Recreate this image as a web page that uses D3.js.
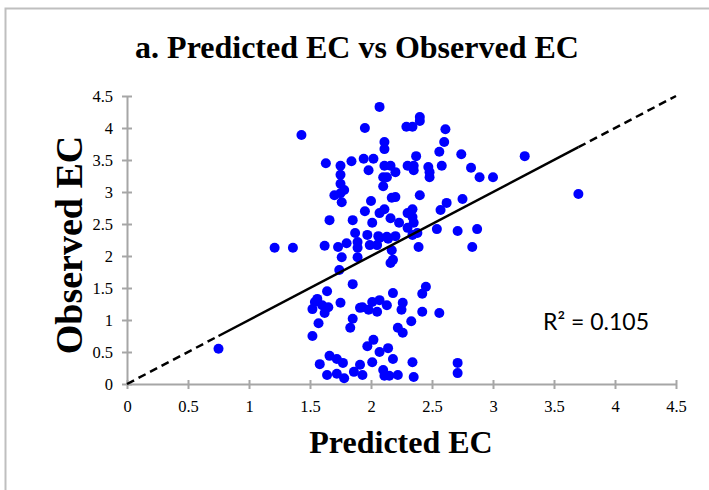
<!DOCTYPE html>
<html lang="en">
<head>
<meta charset="UTF-8">
<title>Predicted EC vs Observed EC</title>
<script src="https://d3js.org/d3.v7.min.js"></script>
<style>
  body { margin: 0; background: #fff; }
  .axis path, .axis line { stroke: #a6a6a6; stroke-width: 2; }
  .axis text { font-family: "Liberation Serif", "Times New Roman", serif; font-size: 16.5px; fill: #000; }
</style>
</head>
<body>
<svg id="chart"></svg>
<script>
let predicted = [
  1.43, 2.07, 1.95, 2.29, 2.34, 2.40, 2.40, 2.61, 2.60, 2.56,
  2.11, 2.11, 1.63, 1.75, 1.84, 1.94, 2.02, 1.98, 2.11, 2.16,
  2.20, 2.30, 2.35, 2.35, 2.37, 2.47, 2.48, 2.48, 2.58, 1.75,
  1.75, 1.78, 1.70, 1.76, 2.10, 2.13, 2.10, 2.00, 2.17, 2.20,
  2.40, 2.62, 2.57, 1.66, 1.85, 1.95, 2.01, 2.07, 2.11, 2.16,
  2.23, 2.30, 2.34, 2.34, 2.35, 2.54, 1.87, 1.97, 2.06, 2.13,
  2.20, 2.30, 2.38, 2.74, 2.82, 2.89, 3.00, 3.26, 3.70, 2.75,
  2.71, 2.87, 2.39, 2.83, 1.21, 1.36, 1.62, 1.73, 1.80, 1.89,
  1.89, 2.07, 2.14, 2.34, 1.99, 2.05, 1.76, 1.89, 2.17, 2.16,
  2.18, 1.74, 1.75,
  1.85, 1.64, 1.54, 1.56, 1.60, 1.65, 1.52, 1.62, 1.75, 1.91,
  1.93, 1.98, 2.01, 2.05, 2.07, 2.13, 2.18, 2.26, 2.25, 2.45,
  2.42, 2.42, 2.56, 2.33, 2.26, 1.57, 1.85, 1.83, 2.22, 1.52,
  2.02, 1.97, 2.14, 2.07, 1.66, 1.72, 1.77, 1.58, 1.91, 2.01,
  2.18, 2.34, 2.71, 2.71, 1.64, 1.72, 1.78, 1.86, 1.93, 2.10,
  2.11, 2.15, 2.22, 2.35, 0.75
]
let observed = [
  3.89, 4.33, 4.00, 4.02, 4.02, 4.17, 4.11, 3.98, 3.78, 3.63,
  3.78, 3.67, 3.45, 3.41, 3.48, 3.52, 3.52, 3.34, 3.41, 3.41,
  3.31, 3.41, 3.41, 3.34, 3.56, 3.39, 3.31, 3.23, 3.41, 3.27,
  3.13, 3.03, 2.95, 2.84, 3.23, 3.23, 3.09, 2.86, 2.91, 2.92,
  2.95, 2.83, 2.72, 2.56, 2.56, 2.70, 2.52, 2.67, 2.73, 2.59,
  2.52, 2.67, 2.73, 2.61, 2.52, 2.42, 2.36, 2.33, 2.31, 2.30,
  2.31, 2.44, 2.36, 3.59, 3.38, 3.23, 3.23, 3.56, 2.97, 2.89,
  2.39, 2.42, 2.14, 2.14, 2.13, 2.13, 2.16, 2.14, 2.20, 2.22,
  2.13, 2.28, 2.27, 2.33, 2.17, 2.17, 1.98, 1.98, 2.09, 1.89,
  1.94, 1.78, 2.98,
  1.56, 1.45, 1.28, 1.33, 1.23, 1.20, 1.17, 1.11, 1.27, 1.19,
  1.20, 1.16, 1.28, 1.13, 1.31, 1.23, 1.42, 1.27, 1.16, 1.52,
  1.41, 1.13, 1.11, 0.98, 0.80, 0.95, 1.02, 0.88, 0.88, 0.75,
  0.69, 0.59, 0.56, 0.50, 0.44, 0.39, 0.33, 0.31, 0.30, 0.34,
  0.39, 0.34, 0.33, 0.17, 0.14, 0.16, 0.09, 0.19, 0.14, 0.22,
  0.13, 0.13, 0.14, 0.11, 0.55
]
let axisTicks = [0, 0.5, 1, 1.5, 2, 2.5, 3, 3.5, 4, 4.5]
let trendSlope = 1.0
let trendIntercept = 0
let rSquared = "R² = 0.105"

let width = 709
let height = 490

let svg = d3.select("#chart")
  .attr("width", width)
  .attr("height", height)

// outer frame
svg.append("rect")
  .attr("x", 5.5).attr("y", 8.5)
  .attr("width", 720).attr("height", 500)
  .attr("fill", "#fff")
  .attr("stroke", "#bfbfbf")
  .attr("stroke-width", 2)

let xScale = d3.scaleLinear().domain([0, 4.5]).range([127, 676])
let yScale = d3.scaleLinear().domain([0, 4.5]).range([384, 96])

let xAxis = d3.axisBottom(xScale)
  .tickValues(axisTicks)
  .tickFormat(d => String(d))
  .tickSize(5)
  .tickPadding(11)
  .tickSizeOuter(0)

let yAxis = d3.axisLeft(yScale)
  .tickValues(axisTicks)
  .tickFormat(d => String(d))
  .tickSize(5)
  .tickPadding(9)
  .tickSizeOuter(0)

let gx = svg.append("g")
  .attr("class", "axis")
  .attr("transform", "translate(0," + yScale(0) + ")")
  .call(xAxis)
gx.selectAll(".tick line").attr("y1", -4)

let gy = svg.append("g")
  .attr("class", "axis")
  .attr("transform", "translate(" + xScale(0) + ",0)")
  .call(yAxis)
gy.selectAll(".tick line").attr("x1", 5)

// points
let data = predicted.map((p, i) => ({ x: p, y: observed[i] }))
svg.append("g")
  .selectAll("circle")
  .data(data)
  .enter()
  .append("circle")
  .attr("cx", d => xScale(d.x))
  .attr("cy", d => yScale(d.y))
  .attr("r", 5)
  .attr("fill", "#0000ff")

// trendline: solid over data range, dashed forecast to both ends
let minX = d3.min(predicted)
let maxX = d3.max(predicted)
let trend = x => trendIntercept + trendSlope * x
let segs = [
  { a: 0, b: minX, dash: "8,5" },
  { a: minX, b: maxX, dash: null },
  { a: maxX, b: 4.5, dash: "8,5" }
]
svg.append("g")
  .selectAll("line")
  .data(segs)
  .enter()
  .append("line")
  .attr("x1", d => xScale(d.a))
  .attr("y1", d => yScale(trend(d.a)))
  .attr("x2", d => xScale(d.b))
  .attr("y2", d => yScale(trend(d.b)))
  .attr("stroke", "#000")
  .attr("stroke-width", 2.5)
  .attr("stroke-dasharray", d => d.dash)

svg.append("text")
  .attr("x", 543).attr("y", 330)
  .attr("font-family", "Lato, 'Open Sans', sans-serif")
  .attr("font-size", 23)
  .text(rSquared)

// titles
svg.append("text")
  .attr("x", 357).attr("y", 58)
  .attr("text-anchor", "middle")
  .attr("font-family", "'Liberation Serif', 'Times New Roman', serif")
  .attr("font-weight", "bold")
  .attr("font-size", 32)
  .text("a. Predicted EC vs Observed EC")

svg.append("text")
  .attr("x", 401).attr("y", 453)
  .attr("text-anchor", "middle")
  .attr("font-family", "'Liberation Serif', 'Times New Roman', serif")
  .attr("font-weight", "bold")
  .attr("font-size", 32)
  .text("Predicted EC")

svg.append("text")
  .attr("transform", "translate(82,245) rotate(-90)")
  .attr("text-anchor", "middle")
  .attr("font-family", "'Liberation Serif', 'Times New Roman', serif")
  .attr("font-weight", "bold")
  .attr("font-size", 38)
  .text("Observed EC")
</script>
</body>
</html>
